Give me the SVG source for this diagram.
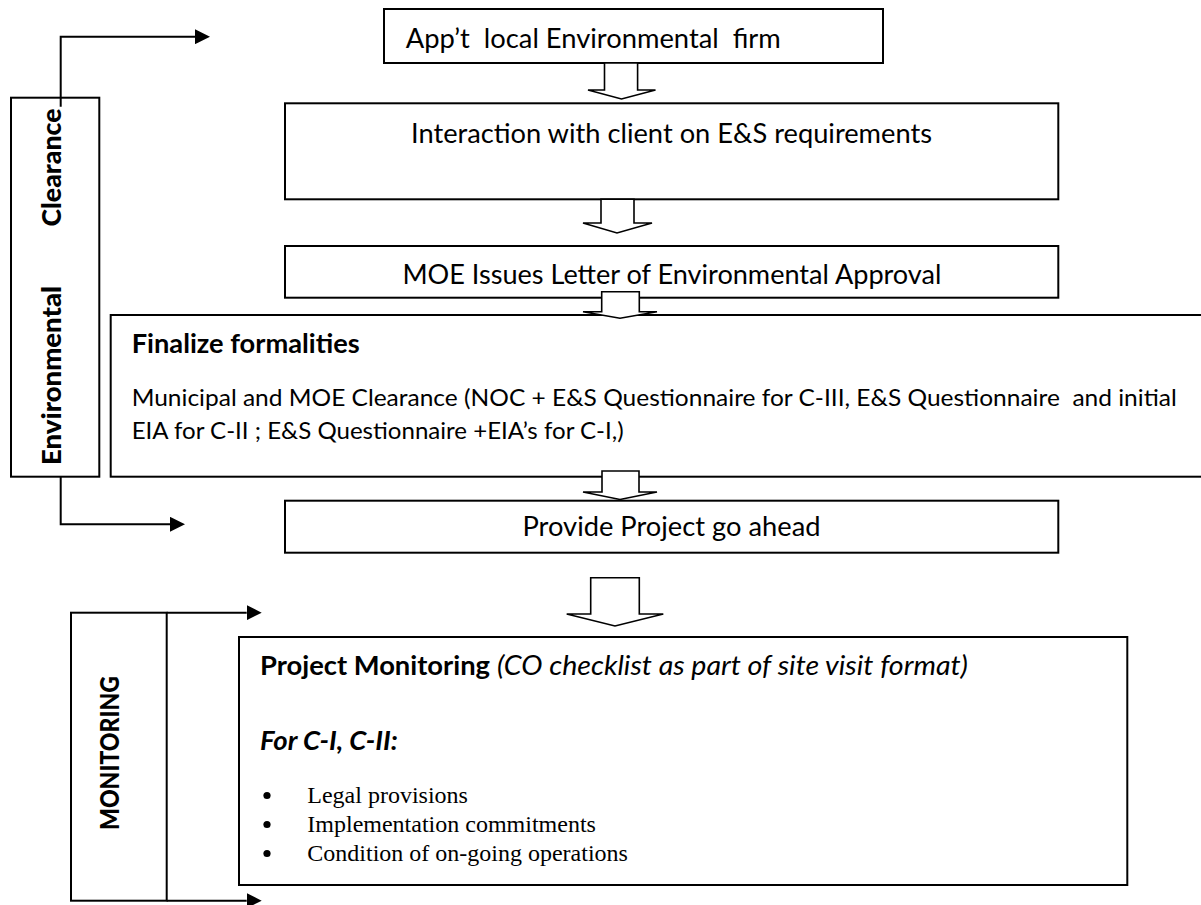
<svg xmlns="http://www.w3.org/2000/svg" width="1201" height="905" viewBox="0 0 1201 905">
  <defs>
    <marker id="head" markerWidth="15" markerHeight="15" refX="0" refY="7.5" orient="auto" markerUnits="userSpaceOnUse">
      <path d="M0,0 L15,7.5 L0,15 Z" fill="#000"/>
    </marker>
  </defs>
  <style>
    .box{fill:#fff;stroke:#000;stroke-width:2}
    .hollow{fill:#fff;stroke:#000;stroke-width:1.6;stroke-linejoin:miter}
    .conn{fill:none;stroke:#000;stroke-width:2}
    .c{font-family:Lato,"Open Sans","Liberation Sans",sans-serif;font-size:26.3px;fill:#000}
    .cs{font-family:Lato,"Open Sans","Liberation Sans",sans-serif;font-size:24px;fill:#000}
    .b{font-weight:bold}
    .side{font-weight:900}
    .i{font-style:italic}
    .tnr{font-family:"Liberation Serif","Times New Roman",serif;font-size:24px;fill:#000}
    .dot{fill:#000}
  </style>

  <rect width="1201" height="905" fill="#fff"/>

  <!-- side bar: environmental clearance -->
  <g id="env-clearance">
    <rect class="box" x="11" y="97.7" width="88.3" height="379"/>
    <text class="c side" transform="translate(61,167.5) rotate(-90)" text-anchor="middle" textLength="118" lengthAdjust="spacingAndGlyphs">Clearance</text>
    <text class="c side" transform="translate(61,375.5) rotate(-90)" text-anchor="middle" textLength="179" lengthAdjust="spacingAndGlyphs">Environmental</text>
  </g>

  <!-- process steps -->
  <g id="appoint-firm">
    <rect class="box" x="384" y="9" width="499" height="54"/>
    <text class="c" x="405.8" y="48" xml:space="preserve" textLength="375" lengthAdjust="spacingAndGlyphs">App’t  local Environmental  firm</text>
  </g>

  <g id="client-interaction">
    <rect class="box" x="285" y="103.3" width="773.3" height="96"/>
    <text class="c" x="411" y="143" textLength="521" lengthAdjust="spacingAndGlyphs">Interaction with client on E&amp;S requirements</text>
  </g>

  <g id="moe-letter">
    <rect class="box" x="285" y="246" width="773.3" height="51.7"/>
    <text class="c" x="402.4" y="284" textLength="539" lengthAdjust="spacingAndGlyphs">MOE Issues Letter of Environmental Approval</text>
  </g>

  <g id="finalize">
    <rect class="box" x="110.7" y="315" width="1095" height="161.7"/>
    <text class="c b" x="131.7" y="353" textLength="228" lengthAdjust="spacingAndGlyphs">Finalize formalities</text>
    <text class="cs" x="131.7" y="406" xml:space="preserve" textLength="1045" lengthAdjust="spacingAndGlyphs">Municipal and MOE Clearance (NOC + E&amp;S Questionnaire for C-III, E&amp;S Questionnaire  and initial</text>
    <text class="cs" x="131.7" y="439" textLength="492" lengthAdjust="spacingAndGlyphs">EIA for C-II ; E&amp;S Questionnaire +EIA’s for C-I,)</text>
  </g>

  <g id="go-ahead">
    <rect class="box" x="285" y="500.7" width="773.3" height="52"/>
    <text class="c" x="671.5" y="536" text-anchor="middle" textLength="298" lengthAdjust="spacingAndGlyphs">Provide Project go ahead</text>
  </g>

  <!-- side bar: monitoring -->
  <g id="monitoring-bar">
    <rect class="box" x="71" y="612.7" width="95.7" height="288"/>
    <text class="c side" transform="translate(119,753) rotate(-90)" text-anchor="middle" textLength="154" lengthAdjust="spacingAndGlyphs">MONITORING</text>
  </g>

  <g id="project-monitoring">
    <rect class="box" x="239" y="637" width="888.3" height="248"/>
    <text class="c b" x="260" y="675" textLength="230" lengthAdjust="spacingAndGlyphs">Project Monitoring</text>
    <text class="c i" x="497" y="675" textLength="471" lengthAdjust="spacingAndGlyphs">(CO checklist as part of site visit format)</text>
    <text class="c b i" x="260" y="750" textLength="138" lengthAdjust="spacingAndGlyphs">For C-I, C-II:</text>
    <!-- list markers -->
    <circle class="dot" cx="267" cy="795.5" r="3.6"/>
    <circle class="dot" cx="267" cy="824.5" r="3.6"/>
    <circle class="dot" cx="267" cy="853.5" r="3.6"/>
    <text class="tnr" x="307.3" y="803">Legal provisions</text>
    <text class="tnr" x="307.3" y="832">Implementation commitments</text>
    <text class="tnr" x="307.3" y="861">Condition of on-going operations</text>
  </g>

  <!-- connectors -->
  <g id="connectors">
    <!-- block arrows between steps -->
    <polygon class="hollow" points="604.5,63 604.5,90 588,90 621.5,99 655.5,90 637.6,90 637.6,63"/>
    <polygon class="hollow" points="601,199.3 601,223 583,223 617,233 652,223 634,223 634,199.3"/>
    <polygon class="hollow" points="601.7,291.7 601.7,311.7 583,311.7 620,318.3 657,311.7 639.3,311.7 639.3,291.7"/>
    <polygon class="hollow" points="602,471 602,492 583,492 620,499.5 657,492 639,492 639,471"/>
    <polygon class="hollow" points="590.7,577.7 590.7,614 566.7,614 615,626 663.3,614 639.3,614 639.3,577.7"/>
    <!-- side arrows -->
    <path class="conn" d="M60.7,106.7 V36.7 H195" marker-end="url(#head)"/>
    <path class="conn" d="M60.7,476.7 V524.3 H170" marker-end="url(#head)"/>
    <path class="conn" d="M166.7,612.7 H246.7" marker-end="url(#head)"/>
    <path class="conn" d="M166.7,900.7 H246.7" marker-end="url(#head)"/>
  </g>
</svg>
